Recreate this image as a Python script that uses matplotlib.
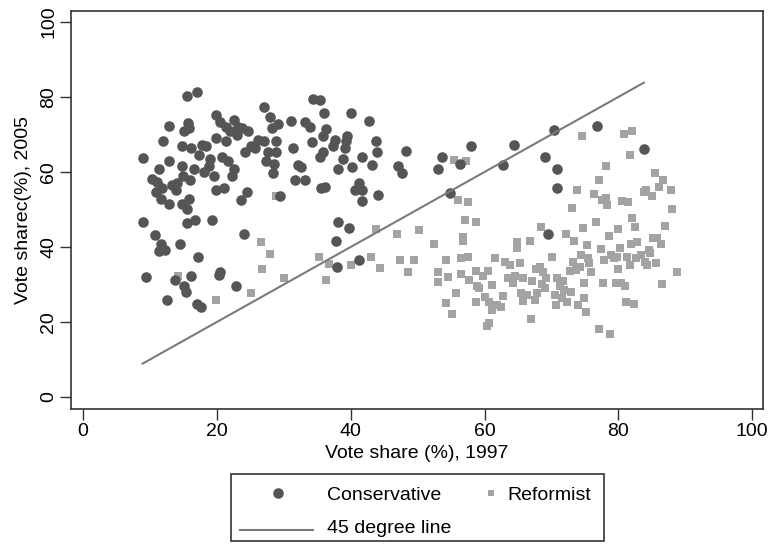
import matplotlib
matplotlib.use("Agg")
import matplotlib.pyplot as plt
from matplotlib.patches import Rectangle

plt.rcParams['font.family'] = ['Liberation Sans', 'DejaVu Sans']

# Conservative districts: vote share 1997 / 2005
cons_x = [8.9, 8.9, 9.4, 10.3, 10.7, 10.9, 11.1, 11.3, 11.6, 11.8, 11.4, 12.0, 12.2, 11.7,
          12.5, 12.9, 12.9, 12.9, 13.3, 13.7, 13.9, 14.0, 14.5, 14.8, 14.8, 14.9, 14.8, 15.1,
          15.1, 15.4, 15.5, 15.5, 15.6, 15.7, 15.9, 16.0, 15.9, 16.1, 16.2, 16.6, 16.8, 17.0,
          17.0, 17.2, 17.3, 17.6, 17.7, 18.1, 18.3, 18.8, 19.0, 19.2, 19.6, 19.8, 19.9, 19.9,
          20.3, 20.5, 20.5, 20.8, 21.0, 21.3, 21.4, 21.6, 22.0, 22.3, 22.5, 22.5, 22.9, 23.0,
          23.2, 23.6, 23.8, 24.0, 24.2, 24.5, 24.7, 25.1, 25.7, 26.2, 27.0, 27.0, 27.3, 27.7,
          28.0, 28.2, 28.4, 28.6, 28.8, 28.9, 29.2, 29.4, 31.0, 31.4, 31.7, 32.1, 32.6, 33.1,
          33.2, 33.9, 34.2, 34.3, 35.4, 35.4, 35.6, 35.8, 35.8, 36.2, 36.0, 36.3, 37.3, 37.6,
          37.8, 38.0, 38.1, 38.1, 38.9, 39.1, 39.3, 39.5, 39.7, 40.0, 40.2, 40.6, 41.2, 41.3,
          41.7, 41.7, 41.7, 42.7, 43.2, 43.7, 43.9, 44.1, 47.1, 47.6, 48.3, 53.0, 53.7, 54.8,
          56.3, 57.9, 62.7, 64.4, 69.0, 69.5, 70.3, 70.8, 70.8, 76.8, 83.8]
cons_y = [63.7, 46.6, 32.1, 58.1, 43.2, 54.7, 57.2, 38.8, 40.7, 55.6, 60.9, 68.3, 39.1, 52.8,
          25.8, 72.3, 63.0, 51.4, 56.5, 31.1, 55.3, 57.0, 40.9, 61.6, 66.8, 58.8, 51.4, 70.8,
          29.7, 28.1, 46.3, 80.3, 50.0, 73.0, 52.8, 57.9, 71.7, 32.2, 66.5, 60.7, 47.1, 81.4,
          24.9, 37.2, 64.4, 23.9, 67.2, 60.0, 66.9, 61.6, 63.5, 47.2, 58.8, 55.3, 75.3, 69.1,
          32.6, 33.2, 73.3, 64.0, 55.6, 71.9, 68.2, 63.0, 71.0, 59.0, 60.9, 73.9, 29.5, 69.8,
          72.1, 52.5, 71.7, 43.5, 65.4, 54.7, 71.0, 66.8, 66.3, 68.6, 77.2, 68.2, 63.0, 65.4,
          74.7, 71.7, 59.8, 62.1, 65.4, 68.2, 72.8, 53.7, 73.7, 66.3, 57.9, 61.8, 61.2, 73.3,
          57.9, 71.9, 68.0, 79.5, 79.1, 64.0, 55.6, 65.4, 69.6, 56.1, 75.6, 71.4, 66.8, 68.6,
          41.6, 34.6, 46.6, 60.7, 63.5, 66.3, 68.2, 69.6, 45.1, 75.8, 61.2, 55.3, 57.0, 36.5,
          64.0, 55.3, 52.3, 73.7, 61.8, 68.3, 65.4, 53.9, 61.6, 59.8, 65.6, 60.7, 64.0, 54.4,
          62.1, 66.8, 61.8, 67.2, 64.0, 43.5, 71.1, 60.7, 55.6, 72.3, 66.1]

# Reformist districts: vote share 1997 / 2005
ref_x = [14.2, 19.8, 25.1, 26.6, 26.7, 28.0, 28.8, 30.1, 35.3, 36.3, 36.8, 40.0, 43.0, 43.7,
         44.4, 46.9, 47.4, 48.6, 49.5, 50.2, 52.4, 53.0, 53.0, 54.2, 54.6, 54.2, 55.2, 55.5,
         55.7, 56.1, 56.5, 56.5, 56.7, 56.8, 57.0, 57.2, 57.5, 57.5, 57.7, 58.7, 58.7, 58.7,
         58.9, 59.2, 59.7, 60.1, 60.4, 60.5, 60.6, 60.7, 61.1, 61.1, 61.6, 61.8, 62.4, 62.7,
         63.1, 63.5, 63.8, 64.2, 64.6, 64.8, 64.8, 65.3, 65.5, 65.7, 65.8, 66.4, 66.8, 67.0,
         67.1, 67.5, 67.7, 67.9, 68.3, 68.5, 68.6, 68.8, 69.0, 69.2, 70.1, 70.5, 70.7, 70.8,
         71.2, 71.6, 71.7, 71.9, 72.2, 72.3, 72.7, 72.9, 73.1, 73.2, 73.4, 73.7, 73.8, 74.0,
         74.2, 74.4, 74.5, 74.7, 74.9, 74.9, 75.1, 75.3, 75.4, 75.6, 75.9, 76.4, 76.6, 77.1,
         77.1, 77.4, 77.5, 77.7, 77.9, 78.1, 78.2, 78.3, 78.6, 78.8, 78.9, 79.3, 79.7, 79.8,
         80.0, 80.0, 80.3, 80.4, 80.6, 80.8, 81.0, 81.2, 81.3, 81.5, 81.7, 81.7, 81.9, 82.1,
         82.1, 82.3, 82.5, 82.6, 82.8, 83.4, 83.8, 84.0, 84.1, 84.3, 84.5, 84.7, 85.0, 85.2,
         85.4, 85.6, 85.7, 86.0, 86.3, 86.5, 86.7, 86.9, 87.8, 88.0, 88.7]
ref_y = [32.3, 25.8, 27.7, 41.3, 34.2, 38.1, 53.7, 31.8, 37.2, 31.1, 35.4, 35.1, 37.4, 44.7,
         34.5, 43.5, 36.5, 33.2, 36.5, 44.4, 40.7, 33.2, 30.7, 36.5, 32.0, 25.1, 22.1, 63.3,
         27.7, 52.5, 37.0, 32.8, 41.6, 42.6, 47.2, 62.8, 37.2, 51.9, 31.1, 46.7, 25.3, 33.7,
         29.5, 29.1, 32.3, 26.7, 18.8, 33.7, 19.7, 25.3, 23.3, 29.8, 37.0, 24.4, 23.9, 27.0,
         36.0, 31.7, 35.1, 30.4, 32.3, 41.2, 39.8, 35.7, 27.7, 25.5, 31.8, 27.2, 41.6, 20.9,
         30.9, 25.8, 34.2, 27.7, 34.6, 45.3, 30.0, 33.2, 29.1, 31.8, 37.4, 27.2, 24.4, 31.8,
         29.5, 26.3, 30.9, 28.5, 43.5, 25.3, 33.5, 28.1, 50.5, 36.0, 41.6, 33.9, 55.1, 24.4,
         34.6, 37.9, 69.6, 45.1, 30.4, 26.3, 22.7, 40.5, 37.0, 35.6, 33.2, 54.0, 46.7, 18.1,
         57.9, 39.5, 52.5, 30.4, 36.5, 61.5, 53.0, 51.2, 42.8, 16.9, 37.9, 37.0, 30.4, 37.4,
         44.7, 34.2, 39.8, 30.4, 52.3, 70.0, 29.5, 25.3, 37.4, 51.9, 64.4, 35.1, 40.7, 71.0,
         47.8, 24.9, 45.3, 37.0, 41.2, 37.9, 54.7, 35.9, 55.3, 35.1, 39.3, 38.4, 53.7, 42.4,
         59.6, 35.6, 42.4, 56.1, 40.7, 30.0, 57.9, 45.6, 55.1, 50.0, 33.2]

# 45 degree line over the observed 1997 range
line_x = [min(cons_x + ref_x), max(cons_x)]

CONS_COLOR = '#555555'
REF_COLOR = '#a3a3a3'
LINE_COLOR = '#7a7a7a'
FRAME_COLOR = '#333333'
FS = 14

fig = plt.figure(figsize=(7.73, 5.45), dpi=100)
ax = fig.add_axes([71 / 773, 1 - 409 / 545, 692 / 773, 398 / 545])

ax.scatter(cons_x, cons_y, s=58, marker='o', color=CONS_COLOR, linewidths=0, zorder=3)
ax.scatter(ref_x, ref_y, s=26, marker='s', color=REF_COLOR, linewidths=0, zorder=2)
ax.plot(line_x, line_x, color=LINE_COLOR, lw=1.5, zorder=4)

ax.set_xlim(-1.8, 101.6)
ax.set_ylim(-3.2, 102.9)
ax.set_xticks([0, 20, 40, 60, 80, 100])
ax.set_yticks([0, 20, 40, 60, 80, 100])
ax.tick_params(axis='both', labelsize=FS, length=8, width=1, color=FRAME_COLOR, pad=2)
for lbl in ax.get_yticklabels():
    lbl.set_rotation(90)
    lbl.set_va('center')
for sp in ax.spines.values():
    sp.set_linewidth(1.2)
    sp.set_color(FRAME_COLOR)

ax.set_xlabel('Vote share (%), 1997', fontsize=FS, labelpad=4)
ax.set_ylabel('Vote sharec(%), 2005', fontsize=FS, labelpad=6)

# legend box (Stata style, below the plot)
lax = fig.add_axes([231 / 773, 1 - 541 / 545, 373 / 773, 67 / 545])
lax.set_xlim(0, 1)
lax.set_ylim(0, 1)
lax.axis('off')
lax.add_patch(Rectangle((0, 0), 1, 1, fill=False, ec=FRAME_COLOR, lw=1.2,
                        transform=lax.transAxes, clip_on=False))
lax.scatter([0.126], [0.716], s=58, marker='o', color=CONS_COLOR, linewidths=0)
lax.text(0.257, 0.612, 'Conservative', fontsize=FS, va='baseline', ha='left')
lax.scatter([0.697], [0.716], s=22, marker='s', color=REF_COLOR, linewidths=0)
lax.text(0.740, 0.612, 'Reformist', fontsize=FS, va='baseline', ha='left')
lax.plot([0.024, 0.220], [0.16, 0.16], color=LINE_COLOR, lw=1.5)
lax.text(0.257, 0.119, '45 degree line', fontsize=FS, va='baseline', ha='left')

fig.savefig('out.png', dpi=100)
